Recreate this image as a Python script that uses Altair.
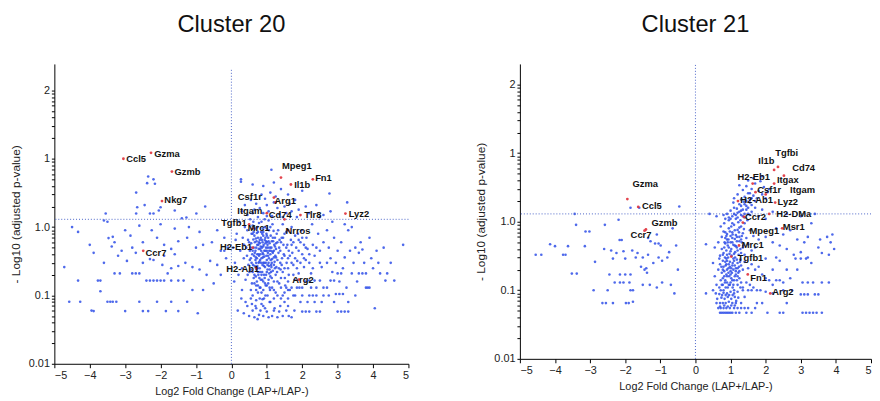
import altair as alt
import pandas as pd

# ---------------- Cluster 20 ----------------
c20_bg = [
(-4.72,0.26),(-4.58,0.081),(-4.27,0.081),(-4.33,0.165),(-4.5,1.0),(-4.33,0.85),(-3.89,0.059),(-3.89,0.42),(-3.77,0.165),(-3.7,0.165),
(-3.7,0.115),(-3.5,0.081),(-3.42,0.081),(-3.35,0.081),(-3.25,0.081),(-3.47,0.69),(-3.35,0.72),(-3.3,0.6),(-3.38,0.52),(-3.1,0.45),
(-3.0,0.059),(-2.95,0.32),(-3.2,0.38),(-3.55,1.58),(-3.6,1.25),(-3.5,1.2),(-2.69,1.58),(-2.66,1.95),(-2.3,1.58),(-2.2,1.58),
(-2.05,1.75),(-2.0,1.95),(-1.6,1.75),(-0.99,1.58),(-0.74,2.0),(-1.27,1.38),(-1.4,1.35),(-2.35,5.5),(-2.2,5.0),(-2.38,4.4),
(-2.16,4.3),(-2.69,3.2),(-2.45,2.1),(-2.8,0.21),(-2.7,0.21),(-2.6,0.21),(-2.4,0.165),(-2.3,0.165),(-2.2,0.165),(-2.1,0.165),
(-2.0,0.165),(-1.9,0.165),(-1.8,0.21),(-1.7,0.165),(-1.5,0.165),(-1.35,0.165),(-2.6,0.081),(-2.5,0.059),(-2.35,0.059),(-2.1,0.081),
(-1.85,0.059),(-1.7,0.081),(-1.5,0.059),(-1.25,0.081),(-1.1,0.12),(-0.95,0.055),(-0.8,0.12),(-2.5,0.3),(-2.3,0.34),(-2.2,0.33),
(-1.95,0.28),(-1.7,0.25),(-1.5,0.27),(-1.3,0.3),(-1.1,0.26),(-0.9,0.24),(-0.7,0.2),(-0.6,0.32),(-0.4,0.28),(-0.3,0.45),
(-0.55,0.6),(-0.8,0.55),(-1.0,0.5),(-1.25,0.7),(-1.5,0.62),(-1.7,0.48),(-1.9,0.55),(-2.1,0.7),(-2.25,0.9),(-2.5,0.6),
(-2.7,0.42),(-2.85,0.75),(-3.0,0.9),(-2.6,1.05),(-2.0,1.1),(-1.6,0.95),(-1.2,1.0),(-0.9,0.85),(-0.4,0.9),(-0.2,0.7),
(-0.15,0.35),(-0.3,0.2),(-0.5,0.15),(-1.9,0.38),(-1.6,0.4),(-2.8,0.5),(-3.6,0.3),(-3.3,0.21),(-3.15,0.21),(-4.0,0.55),(-3.95,0.06),
(0.45,0.9),(0.5,0.6),(0.55,0.35),(0.6,0.22),(0.62,1.2),(0.65,0.75),(0.68,0.45),(0.7,0.3),(0.72,0.16),(0.74,1.0),
(0.76,0.55),(0.78,0.38),(0.8,0.25),(0.82,0.13),(0.84,0.85),(0.86,0.65),(0.88,0.42),(0.9,0.3),(0.92,0.2),(0.94,1.3),
(0.96,0.7),(0.98,0.5),(1.0,0.33),(1.02,0.24),(1.04,0.15),(1.06,0.9),(1.08,0.58),(1.1,0.4),(1.12,0.28),(1.14,0.18),
(1.16,1.1),(1.18,0.62),(1.2,0.45),(1.22,0.31),(1.25,0.2),(1.28,0.8),(0.48,0.28),(0.52,0.45),(0.57,0.8),(0.6,1.05),
(0.63,0.5),(0.66,0.27),(0.69,0.19),(0.71,0.62),(0.73,0.4),(0.75,0.85),(0.77,0.3),(0.79,0.18),(0.81,0.48),(0.83,0.7),
(0.85,0.35),(0.87,0.22),(0.89,0.95),(0.91,0.55),(0.93,0.37),(0.95,0.26),(0.97,0.14),(0.99,0.8),(1.01,0.6),(1.03,0.42),
(1.05,0.3),(1.07,0.21),(1.09,0.12),(1.11,0.75),(1.13,0.5),(1.15,0.34),(1.17,0.23),(1.19,0.88),(1.21,0.55),(1.24,0.38),
(1.27,0.26),(1.3,0.6),(0.42,0.5),(0.46,0.2),(0.53,1.3),(0.58,0.15),(0.64,0.38),(0.67,0.95),(0.7,0.12),(0.73,0.27),
(0.76,0.2),(0.8,0.58),(0.84,0.3),(0.87,0.17),(0.9,0.75),(0.93,0.45),(0.96,0.1),(0.98,0.62),(1.0,0.22),(1.03,0.5),
(1.06,0.35),(1.08,0.13),(1.1,1.0),(1.13,0.26),(1.16,0.44),(1.2,0.16),(1.23,0.7),(1.26,0.48),(0.78,1.15),(0.72,0.82),
(0.85,1.2),(0.95,1.0),(1.05,1.25),(0.62,0.66),(0.68,0.33),(0.74,0.25),(0.82,0.4),(0.88,0.28),(0.94,0.18),(1.0,0.45),
(1.04,0.7),(1.12,0.22),(0.55,0.24),(0.65,0.2),(0.75,0.14),(0.85,0.11),(0.92,0.09),(1.02,0.1),(0.8,0.09),(0.7,0.085),
(0.6,0.1),(0.9,0.12),(0.77,0.48),(0.83,0.52),(0.89,0.36),(0.97,0.3),(1.07,0.45),
(0.52,0.33),(0.56,0.58),(0.59,0.4),(0.61,0.28),(0.63,0.85),(0.66,0.6),(0.69,0.36),(0.71,0.24),(0.73,0.55),(0.75,0.7),
(0.77,0.4),(0.79,0.31),(0.81,0.22),(0.83,0.17),(0.86,0.5),(0.88,0.6),(0.9,0.4),(0.92,0.27),(0.94,0.65),(0.96,0.45),
(0.98,0.2),(1.0,0.75),(1.02,0.55),(1.04,0.38),(1.06,0.27),(1.09,0.5),(1.11,0.33),(1.14,0.62),(1.17,0.42),(1.2,0.28),
(1.23,0.52),(1.26,0.36),(1.29,0.22),(1.33,0.42),(1.36,0.65),(1.39,0.24),(1.43,0.35),(1.47,0.55),(1.51,0.18),(1.56,0.3),
(0.7,0.5),(0.8,0.65),(0.9,0.85),(1.0,0.95),(0.6,0.8),(0.65,0.15),(0.85,0.2),(0.95,0.15),(1.15,0.13),(1.25,0.11),
(0.75,0.11),(0.55,0.12),(1.1,0.08),(0.9,0.07),(0.68,0.07),(1.2,0.06),(0.82,0.06),(1.4,0.09),(1.6,0.07),(1.05,0.17),
(0.44,0.38),(0.47,0.65),(0.51,0.22),(0.54,0.5),(0.57,0.3),(0.6,0.45),(0.63,0.18),(0.66,0.42),(0.69,0.68),(0.72,0.35),
(0.75,0.22),(0.78,0.6),(0.81,0.33),(0.84,0.45),(0.87,0.8),(0.9,0.52),(0.93,0.3),(0.96,0.58),(0.99,0.38),(1.02,0.28),
(1.05,0.62),(1.08,0.24),(1.11,0.45),(1.14,0.3),(1.17,0.7),(1.2,0.36),(1.23,0.25),(1.26,0.58),(1.3,0.33),(1.34,0.25),
(1.38,0.45),(1.42,0.28),(1.46,0.7),(1.5,0.38),(1.55,0.5),(1.6,0.25),(1.65,0.38),(1.7,0.55),(1.75,0.2),(1.8,0.35),
(1.85,0.25),(1.9,0.65),(1.95,0.3),(2.0,0.7),(2.05,0.35),(2.1,0.5),(2.2,0.4),(2.3,0.25),(2.4,0.5),(2.5,0.3),
(0.7,0.14),(0.8,0.13),(0.9,0.16),(1.0,0.14),(1.1,0.19),(1.2,0.12),(1.3,0.16),(1.4,0.13),(1.5,0.11),(1.6,0.16),
(0.35,0.055),(0.45,0.07),(0.5,0.05),(0.55,0.09),(0.6,0.06),(0.65,0.048),(0.7,0.065),(0.78,0.052),(0.85,0.075),(0.9,0.05),
(0.95,0.065),(1.0,0.058),(1.08,0.08),(1.15,0.05),(1.22,0.065),(1.3,0.048),(1.38,0.07),(1.45,0.05),(1.55,0.06),(1.62,0.05),
(1.7,0.048),(1.78,0.06),(0.4,0.08),(0.58,0.075),(0.74,0.045),(0.88,0.088),(1.05,0.048),(1.2,0.09),(1.35,0.058),(1.5,0.08),
(2.0,0.058),(2.1,0.058),(2.2,0.058),(2.4,0.058),(2.5,0.058),(1.3,0.1),(1.45,0.1),(1.6,0.09),(1.75,0.1),
(0.27,5.0),(0.27,4.6),(0.6,4.2),(1.13,6.9),(0.85,3.0),(0.95,2.6),(0.7,2.2),(0.8,1.9),(1.0,2.1),(1.1,3.2),
(1.25,2.8),(1.3,1.9),(1.4,3.6),(1.5,2.0),(1.6,3.0),(1.7,1.7),(1.8,2.5),(1.9,1.8),(2.0,3.4),(2.1,2.0),
(2.2,1.6),(2.77,3.1),(3.27,2.3),(2.8,1.7),(2.6,1.5),(0.6,1.6),(0.55,2.5),(0.9,1.6),(1.05,1.7),(1.15,1.45),
(1.2,2.3),(1.35,1.55),(1.45,1.4),(1.55,1.6),(0.75,1.4),(0.65,1.8),(1.0,1.45),(0.45,1.5),(0.38,2.1),(1.65,2.2),
(2.4,2.1),(2.5,1.4),(0.3,1.7),(1.85,1.4),(0.9,4.0),(1.2,4.5),
(1.32,0.9),(1.35,0.5),(1.38,0.3),(1.4,0.18),(1.42,0.7),(1.45,1.1),(1.48,0.4),(1.5,0.25),(1.52,0.14),(1.55,0.85),
(1.58,0.55),(1.6,0.35),(1.62,0.2),(1.65,0.12),(1.68,0.65),(1.7,1.0),(1.72,0.42),(1.75,0.28),(1.78,0.17),(1.8,0.75),
(1.83,0.5),(1.86,0.32),(1.9,0.21),(1.92,0.13),(1.95,0.6),(1.98,0.9),(2.0,0.4),(2.05,0.26),(2.1,0.16),(2.12,0.7),
(2.15,0.48),(2.2,0.3),(2.25,0.21),(2.28,1.1),(2.3,0.55),(2.35,0.38),(2.4,0.13),(2.45,0.8),(2.5,0.45),(2.55,0.26),
(2.6,0.6),(1.4,0.6),(1.5,0.8),(1.6,0.12),(1.7,0.3),(1.8,0.1),(1.9,0.45),(2.0,0.13),(2.1,0.33),(2.2,0.1),
(2.3,0.1),(2.4,0.1),(2.0,0.1),(1.85,0.13),(1.7,0.13),(1.55,0.13),(2.25,0.13),(2.6,0.13),(2.7,0.13),(2.8,0.165),
(2.9,0.165),(2.5,0.165),(2.35,0.165),(2.2,0.165),(1.95,0.08),(2.15,0.08),(2.35,0.08),(2.55,0.08),(2.6,0.1),(2.75,0.1),
(1.62,0.45),(1.75,0.6),(1.88,0.8),(2.05,0.55),(1.45,0.22),(1.35,0.15),
(2.7,0.9),(2.75,0.5),(2.8,0.35),(2.85,0.22),(2.9,0.7),(2.95,0.3),(3.0,0.45),(3.05,0.16),(3.1,0.6),(3.15,0.25),
(3.2,0.36),(3.25,0.13),(3.3,0.9),(3.35,0.45),(3.4,0.21),(3.45,0.3),(3.5,0.5),(3.55,0.16),(3.6,0.42),(3.65,0.6),
(3.7,0.47),(3.75,0.3),(3.8,0.21),(3.85,0.13),(3.9,0.7),(3.95,0.35),(4.0,0.25),(4.05,0.065),(4.1,0.45),(4.15,0.3),
(4.2,0.21),(4.3,0.5),(4.35,0.165),(4.4,0.21),(4.5,0.3),(4.6,0.165),(4.85,0.55),(2.9,0.08),(3.0,0.058),(3.1,0.058),
(3.2,0.058),(3.3,0.058),(2.95,0.105),(3.05,0.105),(3.15,0.105),(3.3,0.08),(3.5,0.1),(3.6,0.21),(3.7,0.21),(3.8,0.13),
(3.9,0.13),(3.0,0.21),(3.1,0.21),(2.7,0.3),(3.2,1.1),(3.4,1.0),(2.85,1.2),
(0.05,0.5),(0.1,0.3),(0.15,0.8),(0.2,0.2),(0.25,0.45),(0.3,0.12),(0.32,0.7),(0.35,0.35),(0.38,1.0),(0.08,0.16),
(0.18,0.06),(0.28,0.09),(0.22,1.2),(0.12,0.65),(0.3,0.25),(0.36,0.55),(0.4,0.17),(-0.1,0.5),(-0.2,0.45),
]
c20_genes = ["Ccl5","Gzma","Gzmb","Nkg7","Mpeg1","Il1b","Fn1","Csf1r","Arg1","Itgam","Cd74","Tlr8","Lyz2",
             "Tgfb1","Mrc1","Nrros","H2-Eb1","Ccr7","H2-Ab1","Arg2"]
c20_gene_fc = [-3.05,-2.27,-1.68,-1.96,1.4,1.68,2.3,1.2,1.25,1.0,1.5,1.95,3.22,0.5,0.6,1.6,0.6,-2.49,0.7,1.9]
c20_gene_p = [10.0,12.2,6.5,2.4,5.3,4.2,5.0,2.7,2.3,1.6,1.3,1.5,1.58,1.1,0.95,0.9,0.5,0.45,0.25,0.17]
c20_label_fc = [-2.69,-1.82,-1.24,-1.57,1.85,2.0,2.6,0.52,1.52,0.52,1.38,2.3,3.6,0.07,0.77,1.88,0.13,-2.13,0.32,2.02]
c20_label_p = [10.0,11.8,6.3,2.45,7.9,4.1,5.2,2.8,2.4,1.7,1.48,1.48,1.55,1.14,0.97,0.875,0.51,0.42,0.245,0.17]

# ---------------- Cluster 21 ----------------
c21_bg = [
(0.7,0.047),(0.75,0.047),(0.8,0.047),(0.85,0.047),(0.9,0.047),(0.95,0.047),(1.0,0.047),(1.05,0.047),(1.15,0.047),(1.25,0.047),
(1.45,0.047),(1.6,0.047),(0.65,0.055),(0.72,0.055),(0.8,0.055),(0.88,0.055),(0.98,0.055),(1.1,0.055),(1.2,0.055),(1.3,0.055),
(1.4,0.055),(1.5,0.055),(1.7,0.055),(0.6,0.065),(0.7,0.065),(0.78,0.065),(0.86,0.065),(0.95,0.068),(1.05,0.065),(1.15,0.065),
(1.3,0.065),(1.75,0.065),(0.62,0.075),(0.74,0.078),(0.83,0.075),(0.92,0.08),(1.02,0.075),(1.12,0.08),(1.22,0.078),(1.4,0.08),
(0.58,0.09),(0.68,0.088),(0.8,0.092),(0.9,0.09),(1.0,0.095),(1.1,0.09),(1.2,0.095),(1.35,0.1),(1.5,0.1),(1.6,0.1),
(1.75,0.1),(1.85,0.1),(0.3,0.09),(0.5,0.1),(2.0,0.095),
(0.6,0.12),(0.68,0.11),(0.72,0.14),(0.78,0.12),(0.82,0.16),(0.86,0.11),(0.9,0.13),(0.94,0.18),(0.98,0.12),(1.02,0.15),
(1.06,0.11),(1.1,0.14),(1.15,0.17),(1.2,0.12),(1.25,0.15),(1.3,0.13),(1.35,0.11),(1.45,0.13),(1.55,0.12),(1.65,0.11),
(0.65,0.2),(0.7,0.24),(0.75,0.18),(0.8,0.22),(0.85,0.26),(0.9,0.2),(0.95,0.24),(1.0,0.19),(1.05,0.23),(1.1,0.27),
(1.15,0.21),(1.2,0.25),(1.25,0.19),(1.3,0.23),(1.35,0.2),(1.4,0.26),(1.5,0.21),(1.6,0.24),(1.7,0.2),(1.8,0.22),
(1.9,0.17),(2.0,0.15),(2.1,0.14),(2.2,0.12),(2.3,0.14),(2.4,0.14),(2.5,0.13),(0.55,0.16),(0.5,0.25),(0.68,0.29),
(0.88,0.29),(1.08,0.29),(1.28,0.28),(2.0,0.29),(2.3,0.3),
(0.7,0.32),(0.75,0.4),(0.8,0.35),(0.85,0.48),(0.9,0.33),(0.95,0.42),(1.0,0.37),(1.05,0.5),(1.1,0.34),(1.15,0.44),
(1.2,0.38),(1.25,0.52),(1.3,0.35),(1.35,0.42),(1.4,0.33),(1.5,0.47),(1.6,0.38),(1.7,0.42),(0.75,0.6),(0.8,0.72),
(0.85,0.58),(0.9,0.66),(0.95,0.8),(1.0,0.62),(1.05,0.7),(1.1,0.9),(1.15,0.64),(1.2,0.76),(1.25,0.6),(1.3,0.85),
(1.35,0.68),(1.4,0.95),(1.45,0.58),(1.55,0.75),(1.65,0.62),(1.8,0.55),(2.0,0.6),(2.2,0.5),(2.4,0.45),(2.6,0.4),
(2.8,0.33),(3.0,0.36),(3.2,0.3),(2.5,0.65),(2.9,0.55),(3.1,0.5),(3.5,0.42),(0.3,0.47),(0.55,0.42),(0.65,0.5),
(0.72,0.85),(0.82,0.95),(0.92,0.5),(1.02,0.85),(1.12,0.56),(1.22,0.98),(1.32,0.5),
(0.72,0.1),(0.78,0.15),(0.84,0.13),(0.88,0.17),(0.92,0.11),(0.96,0.16),(1.0,0.13),(1.04,0.18),(1.08,0.12),(1.12,0.16),
(1.18,0.14),(1.22,0.18),(1.28,0.11),(0.74,0.22),(0.78,0.27),(0.82,0.19),(0.86,0.23),(0.9,0.27),(0.94,0.21),(0.98,0.26),
(1.02,0.21),(1.06,0.25),(1.12,0.23),(1.18,0.28),(1.24,0.22),(0.78,0.33),(0.82,0.42),(0.88,0.38),(0.92,0.45),(0.97,0.34),
(1.02,0.4),(1.08,0.46),(1.13,0.36),(1.18,0.42),(1.23,0.33),(1.28,0.4),(0.85,0.7),(0.9,0.55),(0.98,0.72),(1.05,0.58),
(1.12,0.75),(1.18,0.6),(1.25,0.82),(1.32,0.62),(1.38,0.78),(0.95,1.05),(1.05,0.95),(1.15,1.25),(1.25,1.4),(1.35,1.2),
(1.45,1.5),(1.55,1.25),(1.3,1.7),(1.45,2.0),(1.6,1.75),(0.76,0.085),(0.86,0.085),(0.96,0.085),(1.06,0.085),(1.16,0.07),
(0.75,0.12),(0.8,0.1),(0.85,0.14),(0.9,0.16),(0.95,0.12),(1.0,0.17),(1.05,0.14),(1.1,0.1),(1.15,0.19),(1.2,0.16),
(0.78,0.2),(0.84,0.3),(0.88,0.24),(0.93,0.3),(0.98,0.22),(1.03,0.32),(1.08,0.2),(1.13,0.3),(1.2,0.21),(1.27,0.26),
(0.83,0.5),(0.88,0.62),(0.94,0.55),(1.0,0.5),(1.06,0.65),(1.12,0.45),(1.18,0.52),(1.24,0.7),(1.3,0.55),(1.36,0.45),
(1.0,1.1),(1.1,1.3),(1.2,1.15),(1.3,1.45),(1.4,1.3),(1.5,1.6),(1.4,1.8),(1.6,2.2),(1.55,2.6),(1.7,2.0),
(0.7,0.058),(0.82,0.06),(0.92,0.058),(1.02,0.06),(1.12,0.06),
(0.85,1.1),(0.9,1.3),(0.95,1.15),(1.0,1.45),(1.05,1.2),(1.1,1.6),(1.15,1.1),(1.2,1.35),(1.25,1.8),(1.3,1.25),
(1.35,1.5),(1.4,1.15),(1.45,1.7),(1.5,1.3),(1.55,1.9),(1.6,1.4),(1.7,1.6),(1.8,1.2),(1.9,1.5),(2.0,1.1),
(0.8,1.25),(1.08,1.9),(1.18,1.55),(1.28,1.05),(1.38,1.95),(1.48,1.05),(2.2,1.4),(2.6,1.3),(3.4,1.3),(3.0,1.2),
(0.6,1.2),(0.4,1.3),
(1.1,2.2),(1.2,2.5),(1.3,2.1),(1.35,2.9),(1.4,2.3),(1.45,3.3),(1.5,2.6),(1.55,2.1),(1.6,3.0),(1.65,2.4),
(1.7,3.6),(1.75,2.2),(1.8,2.8),(1.85,3.9),(1.9,2.5),(1.95,3.2),(2.0,2.2),(2.1,3.0),(1.5,4.0),(1.65,4.3),
(1.9,4.6),(2.05,2.7),(1.25,3.4),
(2.05,0.047),(2.4,0.047),(2.5,0.047),(3.05,0.047),(3.15,0.047),(3.25,0.047),(3.35,0.047),(3.45,0.047),(3.6,0.047),(3.0,0.087),
(3.1,0.087),(3.2,0.087),(3.4,0.087),(3.5,0.087),(3.05,0.13),(3.2,0.13),(3.35,0.13),(3.6,0.13),(3.8,0.13),(2.7,0.15),
(2.9,0.2),(2.85,0.29),(3.0,0.29),(3.15,0.29),(3.3,0.25),(3.75,0.6),(3.85,0.5),(3.95,0.4),(3.8,0.33),(3.6,0.35),
(3.55,0.55),(3.9,0.65),(2.3,0.8),(2.7,0.75),(2.4,0.27),(2.2,0.2),(2.6,0.2),(2.75,0.1),(2.5,0.1),(2.2,0.09),
(1.9,0.065),(2.6,0.065),(3.3,0.95),(3.2,0.6),
(-4.55,0.33),(-4.39,0.33),(-4.14,0.47),(-3.77,0.33),(-3.7,0.33),(-3.63,0.44),(-3.52,0.175),(-3.38,0.175),(-3.44,1.3),(-3.13,0.72),
(-3.02,0.72),(-3.15,0.44),(-2.86,0.26),(-2.58,0.9),(-2.19,1.07),(-2.16,0.54),(-2.1,0.54),(-2.4,0.38),(-2.25,0.35),(-2.05,0.37),
(-2.35,0.29),(-2.0,0.29),(-2.45,0.17),(-2.15,0.17),(-2.0,0.17),(-1.85,0.17),(-2.3,0.13),(-2.15,0.13),(-2.05,0.13),(-1.88,0.13),
(-2.5,0.1),(-1.85,0.1),(-1.78,0.1),(-2.65,0.065),(-2.55,0.065),(-2.35,0.065),(-1.98,0.065),(-1.9,0.065),(-1.78,0.068),(-1.85,1.6),
(-1.6,1.6),(-0.46,1.67),(-1.35,0.58),(-1.28,0.52),(-1.15,0.48),(-1.05,0.48),(-0.99,0.45),(-1.8,0.38),(-1.65,0.35),(-1.7,0.3),
(-1.5,0.3),(-1.35,0.33),(-1.2,0.25),(-1.05,0.3),(-0.95,0.27),(-0.8,0.3),(-1.55,0.22),(-1.4,0.21),(-1.38,0.18),(-1.5,0.12),
(-1.3,0.12),(-1.1,0.11),(-0.95,0.13),(-0.7,0.12),(-0.6,0.09),(-1.45,0.2),(-2.9,0.1),(-4.0,0.44),(-1.1,0.65),(-0.75,0.36),
(-0.5,0.2),(-0.55,0.45),(-0.65,0.8),(-2.6,0.4),(-3.4,0.9),
]
c21_genes = ["Tgfbi","Il1b","Cd74","H2-Eb1","Itgax","Csf1r","Itgam","H2-Ab1","Lyz2","H2-DMa","Gzma","Ccl5",
             "Ccr2","Gzmb","Msr1","Mpeg1","Ccr7","Mrc1","Tgfb1","Fn1","Arg2"]
c21_gene_fc = [2.35,2.24,2.52,1.63,2.24,1.71,2.0,1.21,2.27,2.1,-1.94,-1.63,1.38,-1.41,2.47,1.35,-1.45,1.24,1.02,1.49,2.13]
c21_gene_p = [6.3,5.7,4.7,3.6,3.6,2.7,2.5,2.0,1.9,1.3,2.14,1.64,1.18,0.77,0.8,0.97,0.74,0.45,0.31,0.17,0.09]
c21_label_fc = [2.6,2.02,3.08,1.66,2.63,2.1,3.05,1.74,2.63,2.8,-1.43,-1.24,1.71,-0.88,2.8,1.96,-1.55,1.63,1.57,1.8,2.49]
c21_label_p = [10.2,7.7,6.1,4.5,4.0,2.9,2.9,2.06,1.93,1.3,3.5,1.7,1.18,0.97,0.85,0.74,0.63,0.45,0.3,0.153,0.093]

sig_threshold = 1.3   # -log10(0.05)
axis_min, axis_max = 0.01, 200
x_ticks = [-5, -4, -3, -2, -1, 0, 1, 2, 3, 4, 5]
y_ticks = [m * 10 ** e for e in range(-2, 2) for m in range(1, 10)] + [100]
y_label_expr = ("datum.value == 0.01 ? '0.01' : datum.value == 0.1 ? '0.1' : "
                "datum.value == 1 ? '1.0' : datum.value == 10 ? '1' : datum.value == 100 ? '2' : ''")

FONT = "Liberation Sans"
BLUE = "#2f4fe8"
RED = "#e0303a"
LINE = "#4a64c8"

xax = alt.Axis(values=x_ticks, title="Log2 Fold Change (LAP+/LAP-)", grid=False,
               tickSize=4, labelPadding=2, titlePadding=5, labelFontSize=11,
               titleFontSize=11, titleFontWeight="normal", domainColor="#000",
               tickColor="#000", labelColor="#222", titleColor="#222", labelOverlap=False)
yax = alt.Axis(values=y_ticks, labelExpr=y_label_expr, title="- Log10 (adjusted p-value)",
               grid=False, tickSize=3, labelPadding=2, titlePadding=6, labelFontSize=11,
               titleFontSize=12, titleFontWeight="normal", domainColor="#000",
               tickColor="#000", labelColor="#222", titleColor="#222", labelOverlap=False)


def panel(title, bg, genes, gfc, gp, lfc, lp, width, height, extra_top_px):
    bgdf = pd.DataFrame(bg, columns=["fc", "p"])
    gdf = pd.DataFrame({"gene": genes, "fc": gfc, "p": gp})
    ldf = pd.DataFrame({"gene": genes, "fc": lfc, "p": lp})
    # extend the top of the scale so the 0.01..200 range sits extra_top_px lower in the panel
    decade_px = (height - extra_top_px) / 4.30103
    ymax = axis_max * 10 ** (extra_top_px / decade_px)

    xs = alt.Scale(domain=[-5, 5], nice=False, zero=False)
    ys = alt.Scale(type="log", domain=[axis_min, ymax], nice=False)
    X = lambda f: alt.X(f, scale=xs, axis=xax)
    Y = lambda f: alt.Y(f, scale=ys, axis=yax)

    pts = alt.Chart(bgdf).mark_circle(size=7, opacity=0.85, color=BLUE).encode(
        x=X("fc:Q"), y=Y("p:Q"))
    vline = alt.Chart(pd.DataFrame({"fc": [0], "lo": [axis_min], "hi": [axis_max]})).mark_rule(
        color=LINE, strokeDash=[1, 2], strokeWidth=1).encode(
        x=X("fc:Q"), y=Y("lo:Q"), y2="hi:Q")
    hline = alt.Chart(pd.DataFrame({"p": [sig_threshold]})).mark_rule(
        color=LINE, strokeDash=[1, 2], strokeWidth=1).encode(y=Y("p:Q"))
    red = alt.Chart(gdf).mark_circle(size=8, opacity=0.9, color=RED).encode(
        x=X("fc:Q"), y=Y("p:Q"))
    txt = alt.Chart(ldf).mark_text(font=FONT, fontSize=9.5, fontWeight="bold", color="#111").encode(
        x=X("fc:Q"), y=Y("p:Q"), text="gene:N")

    return alt.layer(pts, vline, hline, red, txt).properties(
        width=width, height=height,
        title=alt.TitleParams(title, fontSize=24, font=FONT, fontWeight="normal",
                              anchor="middle", color="#111", offset=27),
    )


p20 = panel("Cluster 20", c20_bg, c20_genes, c20_gene_fc, c20_gene_p, c20_label_fc, c20_label_p, 359, 304, 6)
p21 = panel("Cluster 21", c21_bg, c21_genes, c21_gene_fc, c21_gene_p, c21_label_fc, c21_label_p, 356, 299, 0)

chart = alt.hconcat(p20, p21, spacing=66).properties(
    padding={"left": 1, "top": 2, "right": 0, "bottom": 0}
).configure(font=FONT).configure_view(stroke=None).configure_axis(labelOverlap=False)

chart.save("out.html", embed_options={"renderer": "svg", "actions": False})
